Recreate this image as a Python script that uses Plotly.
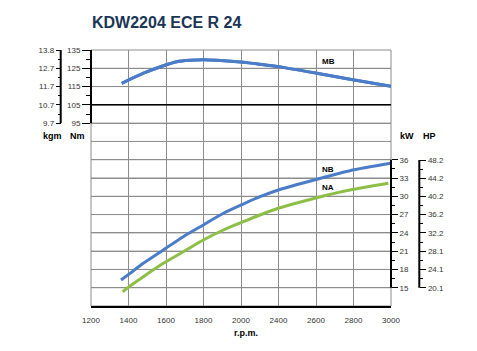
import numpy as np
import plotly.graph_objects as go

# ---------------- data ----------------
TITLE = "KDW2204 ECE R 24"
RPM_LABELS = [1200, 1400, 1600, 1800, 2000, 2400, 2600, 2800, 3000]

NM_TICKS = [95, 105, 115, 125, 135]
KGM_TICKS = ["9.7", "10.7", "11.7", "12.7", "13.8"]
KW_TICKS = [15, 18, 21, 24, 27, 30, 33, 36]
HP_TICKS = [20.1, 24.1, 28.1, 32.2, 36.2, 40.2, 44.2, 48.2]

MB_RPM = [1364, 1480, 1586, 1657, 1728, 1800, 1870, 2024, 2203, 2398, 2604, 2781, 3000]
MB_NM = [116.8, 122.3, 126.4, 128.6, 129.4, 129.7, 129.4, 128.3, 127.2, 125.9, 122.3, 119.0, 115.2]

NB_RPM = [1360, 1408, 1479, 1586, 1692, 1799, 1906, 2024, 2203, 2398, 2604, 2781, 3000]
NB_KW = [16.26, 17.36, 19.0, 21.19, 23.37, 25.29, 27.21, 28.73, 29.93, 31.03, 32.79, 34.20, 35.41]

NA_RPM = [1369, 1408, 1479, 1586, 1692, 1799, 1906, 2024, 2203, 2398, 2604, 2781, 2986]
NA_KW = [14.34, 15.28, 16.81, 19.0, 20.91, 22.83, 24.47, 25.83, 26.93, 28.03, 29.77, 31.03, 32.13]

NM_PER_KGM = 9.80665
HP_PER_KW = 1.341

# ---------------- layout helpers ----------------
W, H = 477, 351
def px(x):
    return x / W
def py(y):
    return 1 - y / H

NM_RANGE = [-5, 135]
KGM_RANGE = [r / NM_PER_KGM for r in NM_RANGE]
NM_GRID_STEP = 10
KW_RANGE = [12, 54]
HP_RANGE = [r * HP_PER_KW for r in KW_RANGE]
FONT = "Liberation Sans, Arial, sans-serif"
BLUE = "#4a7cc7"
GREEN = "#8dbf47"
GRID = "#8c8c8c"
TICKC = "#333333"

pos_idx = list(range(len(RPM_LABELS)))
def rpm_pos(r):
    return np.interp(r, RPM_LABELS, pos_idx)

def mids(v):
    v = sorted(v)
    return [(a + b) / 2 for a, b in zip(v[:-1], v[1:])]

fig = go.Figure()
line_kw = dict(shape="spline", smoothing=0.7)
# torque MB: on the Nm axis and the same curve in kgm on the kgm axis (coincident)
fig.add_trace(go.Scatter(x=rpm_pos(MB_RPM), y=MB_NM, yaxis="y", mode="lines",
                         line=dict(color=BLUE, width=3, **line_kw), showlegend=False, hoverinfo="skip"))
fig.add_trace(go.Scatter(x=rpm_pos(MB_RPM), y=[v / NM_PER_KGM for v in MB_NM], yaxis="y3", mode="lines",
                         line=dict(color=BLUE, width=3, **line_kw), showlegend=False, hoverinfo="skip"))
# NB drawn on the HP axis (same scale as kW axis), NA on the kW axis
fig.add_trace(go.Scatter(x=rpm_pos(NB_RPM), y=[v * HP_PER_KW for v in NB_KW], yaxis="y5", mode="lines",
                         line=dict(color=BLUE, width=3, **line_kw), showlegend=False, hoverinfo="skip"))
fig.add_trace(go.Scatter(x=rpm_pos(NA_RPM), y=NA_KW, yaxis="y4", mode="lines",
                         line=dict(color=GREEN, width=3, **line_kw), showlegend=False, hoverinfo="skip"))

tickfont = dict(family=FONT, size=8, color=TICKC)
xdom = [px(91), px(391)]
ydom = [py(306), py(50)]

common_y = dict(zeroline=False, showline=False, automargin=False,
                tickfont=tickfont, ticks="outside", tickwidth=1, tickcolor="black")

fig.update_layout(
    template="none",
    width=W, height=H,
    margin=dict(l=0, r=0, t=0, b=0, pad=0, autoexpand=False),
    paper_bgcolor="white", plot_bgcolor="rgba(0,0,0,0)",
    font=dict(family=FONT),
    xaxis=dict(domain=xdom, range=[0, len(RPM_LABELS) - 1], tickvals=pos_idx, automargin=False,
               ticktext=[str(v) for v in RPM_LABELS], tickfont=tickfont,
               showgrid=True, gridcolor=GRID, gridwidth=1, zeroline=False,
               showline=True, linecolor="black", linewidth=2,
               ticks="outside", ticklen=5, tickcolor="rgba(0,0,0,0)"),
    yaxis=dict(domain=ydom, range=NM_RANGE, tickvals=NM_TICKS, ticklen=8,
               showgrid=True, gridcolor=GRID, gridwidth=1,
               minor=dict(tickvals=mids(NM_TICKS), ticks="outside", ticklen=4, tickcolor="black"),
               **common_y),
    yaxis3=dict(overlaying="y", anchor="free", position=px(60.7), side="left",
                domain=ydom, range=KGM_RANGE, tickvals=[n / NM_PER_KGM for n in NM_TICKS],
                ticktext=KGM_TICKS, ticklen=5, showgrid=False,
                minor=dict(tickvals=[n / NM_PER_KGM for n in mids(NM_TICKS)], ticks="outside",
                           ticklen=3, tickcolor="black"),
                **common_y),
    yaxis4=dict(overlaying="y", anchor="x", side="right", range=KW_RANGE, domain=ydom,
                tickvals=KW_TICKS, ticklen=6, showgrid=True, gridcolor=GRID, gridwidth=1,
                minor=dict(tickvals=mids(KW_TICKS), ticks="outside", ticklen=3, tickcolor="black"),
                **common_y),
    yaxis5=dict(overlaying="y", anchor="free", position=px(419.3), side="right",
                domain=ydom, range=HP_RANGE, tickvals=HP_TICKS, ticklen=6, showgrid=False,
                minor=dict(tickvals=mids(HP_TICKS), ticks="outside", ticklen=3, tickcolor="black"),
                **common_y),
)

shapes = []
# horizontal grid lines every grid step of the Nm scale
for v in np.arange(NM_RANGE[0] + NM_GRID_STEP, NM_RANGE[1], NM_GRID_STEP):
    shapes.append(dict(type="line", xref="x domain", yref="y", x0=0, x1=1, y0=float(v), y1=float(v),
                       line=dict(color=GRID, width=1), layer="below"))
shapes += [
    dict(type="rect", xref="x domain", yref="y domain", x0=0, x1=1, y0=0, y1=1,
         line=dict(color=GRID, width=1), layer="below"),
    dict(type="line", xref="x domain", yref="y", x0=0, x1=1, y0=NM_TICKS[1], y1=NM_TICKS[1],
         line=dict(color="black", width=1.5)),
    dict(type="line", xref="x domain", yref="y", x0=0, x1=0, y0=min(NM_TICKS), y1=max(NM_TICKS),
         line=dict(color="black", width=2)),
    dict(type="line", xref="paper", yref="y", x0=px(60.7), x1=px(60.7),
         y0=min(NM_TICKS), y1=max(NM_TICKS), line=dict(color="black", width=2)),
    dict(type="line", xref="x domain", yref="y4", x0=1, x1=1, y0=min(KW_TICKS), y1=max(KW_TICKS),
         line=dict(color="black", width=2)),
    dict(type="line", xref="paper", yref="y5", x0=px(419.3), x1=px(419.3),
         y0=min(HP_TICKS), y1=max(HP_TICKS), line=dict(color="black", width=2)),
]
fig.update_layout(shapes=shapes)

def ann(text, x, y, size=9, bold=True, color="black", xanchor="center"):
    t = f"<b>{text}</b>" if bold else text
    return dict(text=t, x=px(x), y=py(y), xref="paper", yref="paper", showarrow=False,
                xanchor=xanchor, yanchor="middle", font=dict(family=FONT, size=size, color=color))

annotations = [
    ann(TITLE, 90, 22.5, size=16, color="#1b3556", xanchor="left"),
    ann("kgm", 52.5, 136.5),
    ann("Nm", 77.5, 136.5),
    ann("kW", 407.3, 136.5),
    ann("HP", 429, 136.5),
    ann("r.p.m.", 246, 333),
    ann("MB", 328.3, 61.7, size=8),
    ann("NB", 328, 169.3, size=8),
    ann("NA", 328, 187.7, size=8),
]
fig.update_layout(annotations=annotations)

fig.write_html("out.html")
